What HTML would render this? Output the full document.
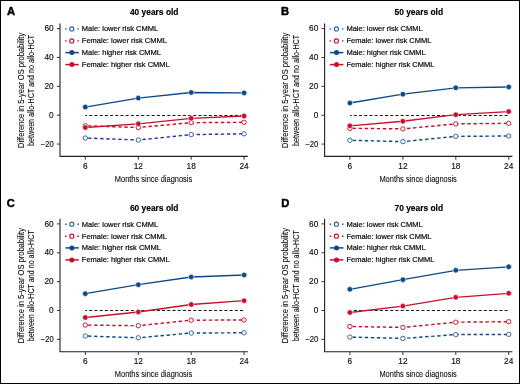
<!DOCTYPE html>
<html><head><meta charset="utf-8"><style>
html,body{margin:0;padding:0;background:#fff;}
body{width:520px;height:384px;overflow:hidden;}
svg{display:block;will-change:transform;}
text{font-family:"Liberation Sans",sans-serif;fill:#111;}
.ttl{font-size:8.3px;font-weight:bold;stroke:#000;stroke-width:0.15px;fill:#000;}
.pl{font-size:11.2px;font-weight:bold;fill:#000;stroke:#000;stroke-width:0.45px;}
.tk{font-size:8.3px;stroke:#111;stroke-width:0.15px;}
.lg{font-size:7.5px;stroke:#111;stroke-width:0.22px;}
.at{font-size:9.9px;stroke:#111;stroke-width:0.12px;}
.ax{stroke:#231f20;stroke-width:1.1;fill:none;}
.tkm{stroke:#231f20;stroke-width:0.9;fill:none;}
.zl{stroke:#1a1a1a;stroke-width:1;fill:none;stroke-dasharray:3.1 2.1;stroke-dashoffset:1.3;}
.dl{stroke-width:1.45;fill:none;stroke-dasharray:3.4 2.65;stroke-dashoffset:3.3;}
.sl{stroke-width:1.35;fill:none;}
</style></head><body>
<svg width="520" height="384" viewBox="0 0 520 384">
<rect x="0.5" y="0.5" width="519" height="383" fill="#fff" stroke="#000" stroke-width="1"/>
<g transform="translate(0,0)">
<text x="154.2" y="15.3" text-anchor="middle" class="ttl" textLength="48.6" lengthAdjust="spacingAndGlyphs">40 years old</text>
<path d="M60.0 23.5 V156.4 H247.8" class="ax"/>
<path d="M56.9 28.58 H60.0" class="tkm"/>
<text x="53.7" y="31.28" text-anchor="end" class="tk">60</text>
<path d="M56.9 57.45 H60.0" class="tkm"/>
<text x="53.7" y="60.15" text-anchor="end" class="tk">40</text>
<path d="M56.9 86.33 H60.0" class="tkm"/>
<text x="53.7" y="89.03" text-anchor="end" class="tk">20</text>
<path d="M56.9 115.20 H60.0" class="tkm"/>
<text x="53.7" y="117.90" text-anchor="end" class="tk">0</text>
<path d="M56.9 144.07 H60.0" class="tkm"/>
<text x="53.7" y="146.77" text-anchor="end" class="tk" textLength="12.9" lengthAdjust="spacingAndGlyphs">−20</text>
<path d="M85.3 156.4 V159.70000000000002" class="tkm"/>
<text x="85.3" y="168.6" text-anchor="middle" class="tk">6</text>
<path d="M138.3 156.4 V159.70000000000002" class="tkm"/>
<text x="138.3" y="168.6" text-anchor="middle" class="tk">12</text>
<path d="M191.2 156.4 V159.70000000000002" class="tkm"/>
<text x="191.2" y="168.6" text-anchor="middle" class="tk">18</text>
<path d="M244.1 156.4 V159.70000000000002" class="tkm"/>
<text x="244.1" y="168.6" text-anchor="middle" class="tk">24</text>
<text x="153.5" y="182" text-anchor="middle" class="at" textLength="77.4" lengthAdjust="spacingAndGlyphs">Months since diagnosis</text>
<text transform="translate(23.5,90.4) rotate(-90)" text-anchor="middle" class="at" textLength="115.2" lengthAdjust="spacingAndGlyphs">Difference in 5-year OS probability</text>
<text transform="translate(34.4,90.4) rotate(-90)" text-anchor="middle" class="at" textLength="111" lengthAdjust="spacingAndGlyphs">between allo-HCT and no allo-HCT</text>
<path d="M85.3 115.5 H244.1" class="zl"/>
<path d="M65 28.9 H66.6 M77.3 28.9 H78.9" stroke="#2a63a0" stroke-width="1.4" fill="none"/>
<circle cx="71.8" cy="28.9" r="2.05" fill="#fff" stroke="#2a63a0" stroke-width="1.1"/>
<text x="81.8" y="31.4" class="lg">Male: lower risk CMML</text>
<path d="M65 40.9 H66.6 M77.3 40.9 H78.9" stroke="#c8102e" stroke-width="1.4" fill="none"/>
<circle cx="71.8" cy="40.9" r="2.05" fill="#fff" stroke="#c8102e" stroke-width="1.1"/>
<text x="81.8" y="43.4" class="lg">Female: lower risk CMML</text>
<path d="M65.4 52.6 H78.8" stroke="#0b4a8a" stroke-width="1.5" fill="none"/>
<circle cx="71.9" cy="52.6" r="2.5" fill="#0b4a8a"/>
<text x="81.8" y="55.1" class="lg">Male: higher risk CMML</text>
<path d="M65.4 64.6 H78.8" stroke="#c8102e" stroke-width="1.5" fill="none"/>
<circle cx="71.9" cy="64.6" r="2.5" fill="#c8102e"/>
<text x="81.8" y="67.1" class="lg">Female: higher risk CMML</text>
</g>
<polyline points="85.30,138.00 138.30,140.00 191.20,134.60 244.10,133.80" class="dl" stroke="#2639a0"/>
<polyline points="85.30,125.80 138.30,127.50 191.20,122.70 244.10,122.30" class="dl" stroke="#c8102e"/>
<circle cx="85.30" cy="138.00" r="2.2" fill="#fff" stroke="#2a63a0" stroke-width="0.95"/>
<circle cx="138.30" cy="140.00" r="2.2" fill="#fff" stroke="#2a63a0" stroke-width="0.95"/>
<circle cx="191.20" cy="134.60" r="2.2" fill="#fff" stroke="#2a63a0" stroke-width="0.95"/>
<circle cx="244.10" cy="133.80" r="2.2" fill="#fff" stroke="#2a63a0" stroke-width="0.95"/>
<circle cx="85.30" cy="125.80" r="2.2" fill="#fff" stroke="#c8102e" stroke-width="0.95"/>
<circle cx="138.30" cy="127.50" r="2.2" fill="#fff" stroke="#c8102e" stroke-width="0.95"/>
<circle cx="191.20" cy="122.70" r="2.2" fill="#fff" stroke="#c8102e" stroke-width="0.95"/>
<circle cx="244.10" cy="122.30" r="2.2" fill="#fff" stroke="#c8102e" stroke-width="0.95"/>
<polyline points="85.30,107.10 138.30,98.10 191.20,92.50 244.10,92.90" class="sl" stroke="#0b4a8a"/>
<polyline points="85.30,127.50 138.30,123.80 191.20,118.30 244.10,116.00" class="sl" stroke="#c8102e"/>
<circle cx="85.30" cy="107.10" r="2.75" fill="#0b4a8a" stroke="#fff" stroke-width="0.6"/>
<circle cx="138.30" cy="98.10" r="2.75" fill="#0b4a8a" stroke="#fff" stroke-width="0.6"/>
<circle cx="191.20" cy="92.50" r="2.75" fill="#0b4a8a" stroke="#fff" stroke-width="0.6"/>
<circle cx="244.10" cy="92.90" r="2.75" fill="#0b4a8a" stroke="#fff" stroke-width="0.6"/>
<circle cx="85.30" cy="127.50" r="2.75" fill="#c8102e" stroke="#fff" stroke-width="0.6"/>
<circle cx="138.30" cy="123.80" r="2.75" fill="#c8102e" stroke="#fff" stroke-width="0.6"/>
<circle cx="191.20" cy="118.30" r="2.75" fill="#c8102e" stroke="#fff" stroke-width="0.6"/>
<circle cx="244.10" cy="116.00" r="2.75" fill="#c8102e" stroke="#fff" stroke-width="0.6"/>
<text x="7.1000000000000005" y="14.9" class="pl">A</text>
<g transform="translate(264.6,0)">
<text x="154.2" y="15.3" text-anchor="middle" class="ttl" textLength="48.6" lengthAdjust="spacingAndGlyphs">50 years old</text>
<path d="M60.0 23.5 V156.4 H247.8" class="ax"/>
<path d="M56.9 28.58 H60.0" class="tkm"/>
<text x="53.7" y="31.28" text-anchor="end" class="tk">60</text>
<path d="M56.9 57.45 H60.0" class="tkm"/>
<text x="53.7" y="60.15" text-anchor="end" class="tk">40</text>
<path d="M56.9 86.33 H60.0" class="tkm"/>
<text x="53.7" y="89.03" text-anchor="end" class="tk">20</text>
<path d="M56.9 115.20 H60.0" class="tkm"/>
<text x="53.7" y="117.90" text-anchor="end" class="tk">0</text>
<path d="M56.9 144.07 H60.0" class="tkm"/>
<text x="53.7" y="146.77" text-anchor="end" class="tk" textLength="12.9" lengthAdjust="spacingAndGlyphs">−20</text>
<path d="M85.3 156.4 V159.70000000000002" class="tkm"/>
<text x="85.3" y="168.6" text-anchor="middle" class="tk">6</text>
<path d="M138.3 156.4 V159.70000000000002" class="tkm"/>
<text x="138.3" y="168.6" text-anchor="middle" class="tk">12</text>
<path d="M191.2 156.4 V159.70000000000002" class="tkm"/>
<text x="191.2" y="168.6" text-anchor="middle" class="tk">18</text>
<path d="M244.1 156.4 V159.70000000000002" class="tkm"/>
<text x="244.1" y="168.6" text-anchor="middle" class="tk">24</text>
<text x="153.5" y="182" text-anchor="middle" class="at" textLength="77.4" lengthAdjust="spacingAndGlyphs">Months since diagnosis</text>
<text transform="translate(23.5,90.4) rotate(-90)" text-anchor="middle" class="at" textLength="115.2" lengthAdjust="spacingAndGlyphs">Difference in 5-year OS probability</text>
<text transform="translate(34.4,90.4) rotate(-90)" text-anchor="middle" class="at" textLength="111" lengthAdjust="spacingAndGlyphs">between allo-HCT and no allo-HCT</text>
<path d="M85.3 115.5 H244.1" class="zl"/>
<path d="M65 28.9 H66.6 M77.3 28.9 H78.9" stroke="#2a63a0" stroke-width="1.4" fill="none"/>
<circle cx="71.8" cy="28.9" r="2.05" fill="#fff" stroke="#2a63a0" stroke-width="1.1"/>
<text x="81.8" y="31.4" class="lg">Male: lower risk CMML</text>
<path d="M65 40.9 H66.6 M77.3 40.9 H78.9" stroke="#c8102e" stroke-width="1.4" fill="none"/>
<circle cx="71.8" cy="40.9" r="2.05" fill="#fff" stroke="#c8102e" stroke-width="1.1"/>
<text x="81.8" y="43.4" class="lg">Female: lower risk CMML</text>
<path d="M65.4 52.6 H78.8" stroke="#0b4a8a" stroke-width="1.5" fill="none"/>
<circle cx="71.9" cy="52.6" r="2.5" fill="#0b4a8a"/>
<text x="81.8" y="55.1" class="lg">Male: higher risk CMML</text>
<path d="M65.4 64.6 H78.8" stroke="#c8102e" stroke-width="1.5" fill="none"/>
<circle cx="71.9" cy="64.6" r="2.5" fill="#c8102e"/>
<text x="81.8" y="67.1" class="lg">Female: higher risk CMML</text>
</g>
<polyline points="349.90,140.30 402.90,141.60 455.80,136.40 508.70,136.00" class="dl" stroke="#0f4a8c"/>
<polyline points="349.90,128.30 402.90,128.90 455.80,123.90 508.70,123.30" class="dl" stroke="#c8102e"/>
<circle cx="349.90" cy="140.30" r="2.2" fill="#fff" stroke="#2a63a0" stroke-width="0.95"/>
<circle cx="402.90" cy="141.60" r="2.2" fill="#fff" stroke="#2a63a0" stroke-width="0.95"/>
<circle cx="455.80" cy="136.40" r="2.2" fill="#fff" stroke="#2a63a0" stroke-width="0.95"/>
<circle cx="508.70" cy="136.00" r="2.2" fill="#fff" stroke="#2a63a0" stroke-width="0.95"/>
<circle cx="349.90" cy="128.30" r="2.2" fill="#fff" stroke="#c8102e" stroke-width="0.95"/>
<circle cx="402.90" cy="128.90" r="2.2" fill="#fff" stroke="#c8102e" stroke-width="0.95"/>
<circle cx="455.80" cy="123.90" r="2.2" fill="#fff" stroke="#c8102e" stroke-width="0.95"/>
<circle cx="508.70" cy="123.30" r="2.2" fill="#fff" stroke="#c8102e" stroke-width="0.95"/>
<polyline points="349.90,103.00 402.90,94.20 455.80,87.80 508.70,87.00" class="sl" stroke="#0b4a8a"/>
<polyline points="349.90,125.80 402.90,121.25 455.80,114.70 508.70,111.60" class="sl" stroke="#c8102e"/>
<circle cx="349.90" cy="103.00" r="2.75" fill="#0b4a8a" stroke="#fff" stroke-width="0.6"/>
<circle cx="402.90" cy="94.20" r="2.75" fill="#0b4a8a" stroke="#fff" stroke-width="0.6"/>
<circle cx="455.80" cy="87.80" r="2.75" fill="#0b4a8a" stroke="#fff" stroke-width="0.6"/>
<circle cx="508.70" cy="87.00" r="2.75" fill="#0b4a8a" stroke="#fff" stroke-width="0.6"/>
<circle cx="349.90" cy="125.80" r="2.75" fill="#c8102e" stroke="#fff" stroke-width="0.6"/>
<circle cx="402.90" cy="121.25" r="2.75" fill="#c8102e" stroke="#fff" stroke-width="0.6"/>
<circle cx="455.80" cy="114.70" r="2.75" fill="#c8102e" stroke="#fff" stroke-width="0.6"/>
<circle cx="508.70" cy="111.60" r="2.75" fill="#c8102e" stroke="#fff" stroke-width="0.6"/>
<text x="281.09999999999997" y="14.600000000000001" class="pl">B</text>
<g transform="translate(0,195.3)">
<text x="154.2" y="15.3" text-anchor="middle" class="ttl" textLength="48.6" lengthAdjust="spacingAndGlyphs">60 years old</text>
<path d="M60.0 23.5 V156.4 H247.8" class="ax"/>
<path d="M56.9 28.58 H60.0" class="tkm"/>
<text x="53.7" y="31.28" text-anchor="end" class="tk">60</text>
<path d="M56.9 57.45 H60.0" class="tkm"/>
<text x="53.7" y="60.15" text-anchor="end" class="tk">40</text>
<path d="M56.9 86.33 H60.0" class="tkm"/>
<text x="53.7" y="89.03" text-anchor="end" class="tk">20</text>
<path d="M56.9 115.20 H60.0" class="tkm"/>
<text x="53.7" y="117.90" text-anchor="end" class="tk">0</text>
<path d="M56.9 144.07 H60.0" class="tkm"/>
<text x="53.7" y="146.77" text-anchor="end" class="tk" textLength="12.9" lengthAdjust="spacingAndGlyphs">−20</text>
<path d="M85.3 156.4 V159.70000000000002" class="tkm"/>
<text x="85.3" y="168.6" text-anchor="middle" class="tk">6</text>
<path d="M138.3 156.4 V159.70000000000002" class="tkm"/>
<text x="138.3" y="168.6" text-anchor="middle" class="tk">12</text>
<path d="M191.2 156.4 V159.70000000000002" class="tkm"/>
<text x="191.2" y="168.6" text-anchor="middle" class="tk">18</text>
<path d="M244.1 156.4 V159.70000000000002" class="tkm"/>
<text x="244.1" y="168.6" text-anchor="middle" class="tk">24</text>
<text x="153.5" y="182" text-anchor="middle" class="at" textLength="77.4" lengthAdjust="spacingAndGlyphs">Months since diagnosis</text>
<text transform="translate(23.5,90.4) rotate(-90)" text-anchor="middle" class="at" textLength="115.2" lengthAdjust="spacingAndGlyphs">Difference in 5-year OS probability</text>
<text transform="translate(34.4,90.4) rotate(-90)" text-anchor="middle" class="at" textLength="111" lengthAdjust="spacingAndGlyphs">between allo-HCT and no allo-HCT</text>
<path d="M85.3 115.2 H244.1" class="zl"/>
<path d="M65 28.9 H66.6 M77.3 28.9 H78.9" stroke="#2a63a0" stroke-width="1.4" fill="none"/>
<circle cx="71.8" cy="28.9" r="2.05" fill="#fff" stroke="#2a63a0" stroke-width="1.1"/>
<text x="81.8" y="31.4" class="lg">Male: lower risk CMML</text>
<path d="M65 40.9 H66.6 M77.3 40.9 H78.9" stroke="#c8102e" stroke-width="1.4" fill="none"/>
<circle cx="71.8" cy="40.9" r="2.05" fill="#fff" stroke="#c8102e" stroke-width="1.1"/>
<text x="81.8" y="43.4" class="lg">Female: lower risk CMML</text>
<path d="M65.4 52.6 H78.8" stroke="#0b4a8a" stroke-width="1.5" fill="none"/>
<circle cx="71.9" cy="52.6" r="2.5" fill="#0b4a8a"/>
<text x="81.8" y="55.1" class="lg">Male: higher risk CMML</text>
<path d="M65.4 64.6 H78.8" stroke="#c8102e" stroke-width="1.5" fill="none"/>
<circle cx="71.9" cy="64.6" r="2.5" fill="#c8102e"/>
<text x="81.8" y="67.1" class="lg">Female: higher risk CMML</text>
</g>
<polyline points="85.30,336.00 138.30,337.80 191.20,333.00 244.10,332.80" class="dl" stroke="#0f4a8c"/>
<polyline points="85.30,325.10 138.30,325.70 191.20,320.20 244.10,320.00" class="dl" stroke="#c8102e"/>
<circle cx="85.30" cy="336.00" r="2.2" fill="#fff" stroke="#2a63a0" stroke-width="0.95"/>
<circle cx="138.30" cy="337.80" r="2.2" fill="#fff" stroke="#2a63a0" stroke-width="0.95"/>
<circle cx="191.20" cy="333.00" r="2.2" fill="#fff" stroke="#2a63a0" stroke-width="0.95"/>
<circle cx="244.10" cy="332.80" r="2.2" fill="#fff" stroke="#2a63a0" stroke-width="0.95"/>
<circle cx="85.30" cy="325.10" r="2.2" fill="#fff" stroke="#c8102e" stroke-width="0.95"/>
<circle cx="138.30" cy="325.70" r="2.2" fill="#fff" stroke="#c8102e" stroke-width="0.95"/>
<circle cx="191.20" cy="320.20" r="2.2" fill="#fff" stroke="#c8102e" stroke-width="0.95"/>
<circle cx="244.10" cy="320.00" r="2.2" fill="#fff" stroke="#c8102e" stroke-width="0.95"/>
<polyline points="85.30,293.70 138.30,284.70 191.20,277.00 244.10,275.00" class="sl" stroke="#0b4a8a"/>
<polyline points="85.30,317.50 138.30,312.00 191.20,304.50 244.10,300.70" class="sl" stroke="#c8102e"/>
<circle cx="85.30" cy="293.70" r="2.75" fill="#0b4a8a" stroke="#fff" stroke-width="0.6"/>
<circle cx="138.30" cy="284.70" r="2.75" fill="#0b4a8a" stroke="#fff" stroke-width="0.6"/>
<circle cx="191.20" cy="277.00" r="2.75" fill="#0b4a8a" stroke="#fff" stroke-width="0.6"/>
<circle cx="244.10" cy="275.00" r="2.75" fill="#0b4a8a" stroke="#fff" stroke-width="0.6"/>
<circle cx="85.30" cy="317.50" r="2.75" fill="#c8102e" stroke="#fff" stroke-width="0.6"/>
<circle cx="138.30" cy="312.00" r="2.75" fill="#c8102e" stroke="#fff" stroke-width="0.6"/>
<circle cx="191.20" cy="304.50" r="2.75" fill="#c8102e" stroke="#fff" stroke-width="0.6"/>
<circle cx="244.10" cy="300.70" r="2.75" fill="#c8102e" stroke="#fff" stroke-width="0.6"/>
<text x="6.7" y="207.3" class="pl">C</text>
<g transform="translate(264.6,195.3)">
<text x="154.2" y="15.3" text-anchor="middle" class="ttl" textLength="48.6" lengthAdjust="spacingAndGlyphs">70 years old</text>
<path d="M60.0 23.5 V156.4 H247.8" class="ax"/>
<path d="M56.9 28.58 H60.0" class="tkm"/>
<text x="53.7" y="31.28" text-anchor="end" class="tk">60</text>
<path d="M56.9 57.45 H60.0" class="tkm"/>
<text x="53.7" y="60.15" text-anchor="end" class="tk">40</text>
<path d="M56.9 86.33 H60.0" class="tkm"/>
<text x="53.7" y="89.03" text-anchor="end" class="tk">20</text>
<path d="M56.9 115.20 H60.0" class="tkm"/>
<text x="53.7" y="117.90" text-anchor="end" class="tk">0</text>
<path d="M56.9 144.07 H60.0" class="tkm"/>
<text x="53.7" y="146.77" text-anchor="end" class="tk" textLength="12.9" lengthAdjust="spacingAndGlyphs">−20</text>
<path d="M85.3 156.4 V159.70000000000002" class="tkm"/>
<text x="85.3" y="168.6" text-anchor="middle" class="tk">6</text>
<path d="M138.3 156.4 V159.70000000000002" class="tkm"/>
<text x="138.3" y="168.6" text-anchor="middle" class="tk">12</text>
<path d="M191.2 156.4 V159.70000000000002" class="tkm"/>
<text x="191.2" y="168.6" text-anchor="middle" class="tk">18</text>
<path d="M244.1 156.4 V159.70000000000002" class="tkm"/>
<text x="244.1" y="168.6" text-anchor="middle" class="tk">24</text>
<text x="153.5" y="182" text-anchor="middle" class="at" textLength="77.4" lengthAdjust="spacingAndGlyphs">Months since diagnosis</text>
<text transform="translate(23.5,90.4) rotate(-90)" text-anchor="middle" class="at" textLength="115.2" lengthAdjust="spacingAndGlyphs">Difference in 5-year OS probability</text>
<text transform="translate(34.4,90.4) rotate(-90)" text-anchor="middle" class="at" textLength="111" lengthAdjust="spacingAndGlyphs">between allo-HCT and no allo-HCT</text>
<path d="M85.3 115.2 H244.1" class="zl"/>
<path d="M65 28.9 H66.6 M77.3 28.9 H78.9" stroke="#2a63a0" stroke-width="1.4" fill="none"/>
<circle cx="71.8" cy="28.9" r="2.05" fill="#fff" stroke="#2a63a0" stroke-width="1.1"/>
<text x="81.8" y="31.4" class="lg">Male: lower risk CMML</text>
<path d="M65 40.9 H66.6 M77.3 40.9 H78.9" stroke="#c8102e" stroke-width="1.4" fill="none"/>
<circle cx="71.8" cy="40.9" r="2.05" fill="#fff" stroke="#c8102e" stroke-width="1.1"/>
<text x="81.8" y="43.4" class="lg">Female: lower risk CMML</text>
<path d="M65.4 52.6 H78.8" stroke="#0b4a8a" stroke-width="1.5" fill="none"/>
<circle cx="71.9" cy="52.6" r="2.5" fill="#0b4a8a"/>
<text x="81.8" y="55.1" class="lg">Male: higher risk CMML</text>
<path d="M65.4 64.6 H78.8" stroke="#c8102e" stroke-width="1.5" fill="none"/>
<circle cx="71.9" cy="64.6" r="2.5" fill="#c8102e"/>
<text x="81.8" y="67.1" class="lg">Female: higher risk CMML</text>
</g>
<polyline points="349.90,337.10 402.90,338.40 455.80,334.60 508.70,334.40" class="dl" stroke="#0f4a8c"/>
<polyline points="349.90,326.50 402.90,327.40 455.80,322.20 508.70,321.70" class="dl" stroke="#c8102e"/>
<circle cx="349.90" cy="337.10" r="2.2" fill="#fff" stroke="#2a63a0" stroke-width="0.95"/>
<circle cx="402.90" cy="338.40" r="2.2" fill="#fff" stroke="#2a63a0" stroke-width="0.95"/>
<circle cx="455.80" cy="334.60" r="2.2" fill="#fff" stroke="#2a63a0" stroke-width="0.95"/>
<circle cx="508.70" cy="334.40" r="2.2" fill="#fff" stroke="#2a63a0" stroke-width="0.95"/>
<circle cx="349.90" cy="326.50" r="2.2" fill="#fff" stroke="#c8102e" stroke-width="0.95"/>
<circle cx="402.90" cy="327.40" r="2.2" fill="#fff" stroke="#c8102e" stroke-width="0.95"/>
<circle cx="455.80" cy="322.20" r="2.2" fill="#fff" stroke="#c8102e" stroke-width="0.95"/>
<circle cx="508.70" cy="321.70" r="2.2" fill="#fff" stroke="#c8102e" stroke-width="0.95"/>
<polyline points="349.90,289.30 402.90,279.70 455.80,270.30 508.70,266.80" class="sl" stroke="#0b4a8a"/>
<polyline points="349.90,312.50 402.90,306.10 455.80,297.30 508.70,293.30" class="sl" stroke="#c8102e"/>
<circle cx="349.90" cy="289.30" r="2.75" fill="#0b4a8a" stroke="#fff" stroke-width="0.6"/>
<circle cx="402.90" cy="279.70" r="2.75" fill="#0b4a8a" stroke="#fff" stroke-width="0.6"/>
<circle cx="455.80" cy="270.30" r="2.75" fill="#0b4a8a" stroke="#fff" stroke-width="0.6"/>
<circle cx="508.70" cy="266.80" r="2.75" fill="#0b4a8a" stroke="#fff" stroke-width="0.6"/>
<circle cx="349.90" cy="312.50" r="2.75" fill="#c8102e" stroke="#fff" stroke-width="0.6"/>
<circle cx="402.90" cy="306.10" r="2.75" fill="#c8102e" stroke="#fff" stroke-width="0.6"/>
<circle cx="455.80" cy="297.30" r="2.75" fill="#c8102e" stroke="#fff" stroke-width="0.6"/>
<circle cx="508.70" cy="293.30" r="2.75" fill="#c8102e" stroke="#fff" stroke-width="0.6"/>
<text x="281.2" y="207.0" class="pl">D</text>
</svg>
</body></html>
